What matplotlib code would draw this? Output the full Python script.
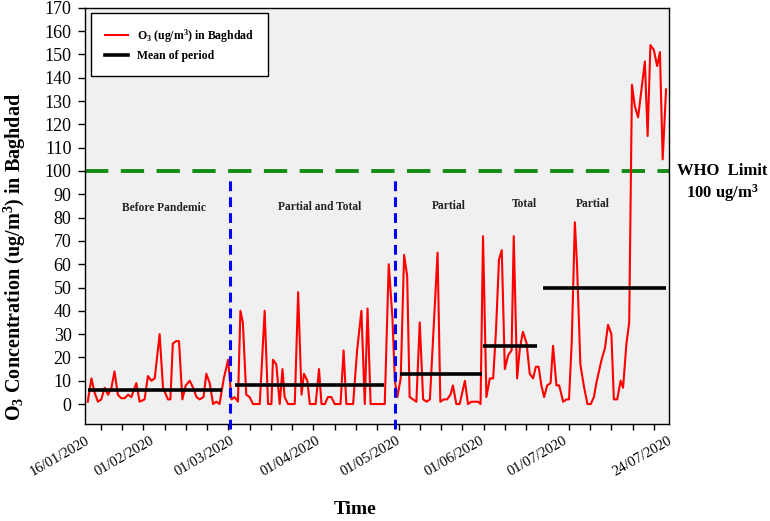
import matplotlib
matplotlib.use('Agg')
import matplotlib.pyplot as plt
import numpy as np
from matplotlib.lines import Line2D

plt.rcParams.update({'font.family': ['Liberation Serif', 'DejaVu Serif'],
                     'mathtext.fontset': 'custom',
                     'mathtext.rm': 'Liberation Serif',
                     'mathtext.bf': 'Liberation Serif:bold',
                     'mathtext.it': 'Liberation Serif:italic'})

# days counted from 16/01/2020, O3 in ug/m3
days = [0.7, 1.9, 2.9, 4.0, 5.1, 6.2, 7.3, 8.4, 9.4, 10.5, 11.6, 12.7, 13.8, 14.9,
        16.5, 17.6, 19.2, 20.3, 21.4, 22.5, 24.1, 25.2, 26.8, 27.6, 28.4, 29.5, 30.4,
        31.5, 32.6, 33.9, 35.0, 36.1, 37.1, 38.4, 39.3, 40.4, 41.5, 42.6, 43.6, 45.0,
        46.4, 47.5, 48.5, 49.6, 50.4, 51.2, 52.3, 53.4, 54.5, 56.7, 58.3, 59.4, 60.5,
        61.0, 62.1, 63.2, 64.1, 64.8, 65.9, 67.0, 68.1, 69.2, 70.3, 71.1, 72.2, 73.0,
        74.0, 74.9, 76.0, 76.8, 77.9, 78.9, 80.0, 81.1, 82.2, 83.0, 84.0, 84.9, 86.0,
        87.1, 88.4, 89.8, 90.9, 91.8, 92.8, 93.9, 95.0, 96.3, 97.4, 98.7, 99.9, 100.7,
        101.5, 102.6, 103.7, 104.7, 105.5, 106.6, 107.7, 108.8, 109.9, 111.0, 112.1,
        114.6, 115.5, 116.6, 117.7, 118.8, 119.6, 120.7, 121.8, 123.5, 124.5, 125.6,
        126.7, 127.8, 128.6, 129.4, 130.5, 131.6, 132.7, 133.6, 134.6, 135.5, 136.5,
        137.6, 138.7, 139.4, 140.5, 141.4, 142.4, 143.6, 144.6, 145.7, 146.6, 147.5,
        148.4, 149.3, 150.3, 151.4, 152.2, 153.3, 154.2, 155.5, 156.6, 157.4, 158.3,
        159.3, 160.0, 161.1, 162.2, 163.4, 164.5, 165.5, 166.3, 168.0, 169.1, 170.1,
        171.2, 172.0, 173.1, 174.2, 175.0, 176.1, 177.0, 177.9, 178.8, 179.9, 181.0,
        182.1, 183.0, 183.9, 185.0, 186.1, 187.0, 187.9, 189.0]
o3 = [1, 11, 5, 1, 2, 7, 4, 7, 14, 4, 2.5, 2.5, 4, 3,
      9, 1, 2, 12, 10, 11, 30, 7, 2, 2, 26, 27, 27,
      2, 8, 10, 7, 3, 2, 3, 13, 9, 0, 1, 0, 11,
      19, 2, 3, 1, 40, 35, 4, 3, 0, 0, 40, 0, 0,
      19, 17, 0, 15, 3, 0, 0, 0, 48, 4, 13, 10, 0,
      0, 0, 15, 0, 0, 3, 3, 0, 0, 0, 23, 0, 0,
      0, 23, 40, 0, 41, 0, 0, 0, 0, 0, 60, 37, 10,
      3, 11, 64, 55, 3, 2, 1, 35, 2, 1, 2,
      65, 1, 2, 2, 4, 8, 0, 0, 10, 0, 1,
      1, 1, 0, 72, 3, 11, 11, 31, 62, 66, 15,
      21, 23, 72, 11, 24, 31, 26, 13, 11, 16, 16,
      8, 3, 8, 9, 25, 8, 8, 1, 2, 2, 27,
      78, 60, 17, 8, 0, 0, 3, 9, 19, 24, 34,
      30, 2, 2, 10, 7, 26, 35, 137, 128, 123, 135,
      147, 115, 154, 152, 145, 151, 105, 135]

# mean of each period
period_start = [0.7, 48.5, 102.3, 129.3, 148.9]
period_end = [44.3, 97.1, 129.0, 146.9, 189.0]
period_mean = [6, 8, 13, 25, 50]

period_names = ['Before Pandemic', 'Partial and Total', 'Partial', 'Total', 'Partial']
name_x = [25.4, 76.2, 118.2, 143.0, 165.3]
name_y = [84, 84.4, 85, 85.7, 85.7]

lockdown_days = [46.9, 100.7]
who_limit = 100

tick_days = [0, 20.8, 46.9, 74.9, 101.0, 128.3, 155.4, 189.6]
tick_labels = ['16/01/2020', '01/02/2020', '01/03/2020', '01/04/2020',
               '01/05/2020', '01/06/2020', '01/07/2020', '24/07/2020']

fig = plt.figure(figsize=(7.7, 5.21), dpi=100)
ax = fig.add_axes([0.110, 0.186, 0.759, 0.799])
ax.set_facecolor('#f0f0f0')

ax.plot(days, o3, color='red', lw=1.5, zorder=3)
for s, e, m in zip(period_start, period_end, period_mean):
    ax.plot([s, e], [m, m], color='black', lw=2.6, solid_capstyle='butt', zorder=4)

ax.axhline(who_limit, color='#128c12', lw=2.8, dashes=(6.0, 3.2), zorder=2)
for d in lockdown_days:
    ax.plot([d, d], [-10.5, 97], color='blue', lw=2.2, dashes=(3.2, 2.0),
            clip_on=False, zorder=5)

for name, x, y in zip(period_names, name_x, name_y):
    ax.text(x, y, name, ha='center', va='center', fontsize=8.3, fontweight='bold',
            color='#222222')

ax.text(1.091, who_limit, 'WHO  Limit', transform=ax.get_yaxis_transform(),
        ha='center', va='center', fontsize=12, fontweight='bold')
ax.text(1.091, 90.5, r'100 ug/m$^{\mathbf{3}}$', transform=ax.get_yaxis_transform(),
        ha='center', va='center', fontsize=12, fontweight='bold')

ax.set_ylim(-8.6, 170)
ax.set_yticks(np.arange(0, 171, 10))
ax.tick_params(axis='y', direction='out', length=5, width=1, labelsize=13, pad=4.5)

ax.set_xlim(-0.3, 190)
ax.set_xticks(tick_days)
ax.set_xticklabels(tick_labels, rotation=30, ha='right', rotation_mode='anchor')
ax.set_xticks(np.arange(4.9, 190, 6.93), minor=True)
ax.tick_params(axis='x', which='major', length=0, pad=7, labelsize=10.5)
ax.tick_params(axis='x', which='minor', direction='out', length=4, width=1)

for sp in ax.spines.values():
    sp.set_linewidth(1.0)

fig.text(15 / 770, 1 - 257 / 521, r'O$_{\mathbf{3}}$ Concentration (ug/m$^{\mathbf{3}}$) in Baghdad',
         rotation=90, ha='center', va='center', fontsize=14.5, fontweight='bold')
fig.text(355 / 770, 1 - 510 / 521, 'Time', ha='center', va='center',
         fontsize=14, fontweight='bold')

handles = [Line2D([], [], color='red', lw=1.5),
           Line2D([], [], color='black', lw=2.6)]
labels = [r'O$_{\mathbf{3}}$ (ug/m$^{\mathbf{3}}$) in Baghdad', 'Mean of period']
leg = ax.legend(handles, labels, loc='upper left', bbox_to_anchor=(0.0103, 0.988),
                borderaxespad=0, frameon=True, fancybox=False, edgecolor='black',
                framealpha=1, prop={'weight': 'bold', 'size': 8.5}, borderpad=1.2,
                handlelength=2.0, handletextpad=0.7, labelspacing=0.45)
leg.get_frame().set_linewidth(1.0)

fig.savefig('out.png', dpi=100)
